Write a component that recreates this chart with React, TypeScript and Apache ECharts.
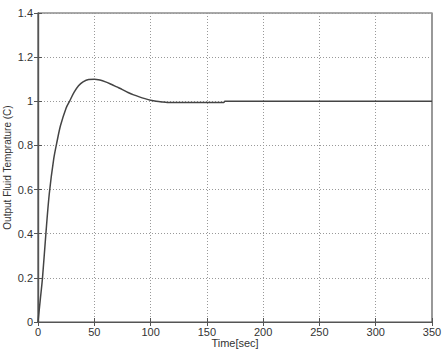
import React, { useEffect, useRef } from "react";
import * as echarts from "echarts";

const timeSec = [0, 2, 4, 7, 10, 14, 17, 20, 25, 28, 32, 36, 40, 45, 50, 55, 60, 65, 70, 75, 80, 85, 90, 95, 100, 105, 110, 115, 120, 140, 165, 166, 200, 250, 300, 350];
const temperature = [0, 0.1, 0.2, 0.4, 0.58, 0.74, 0.82, 0.89, 0.97, 1.0, 1.04, 1.07, 1.088, 1.099, 1.1, 1.096, 1.088, 1.077, 1.065, 1.053, 1.04, 1.029, 1.02, 1.012, 1.005, 1.0, 0.997, 0.995, 0.995, 0.995, 0.995, 1.0, 1.0, 1.0, 1.0, 1.0];
const xTicks = [0, 50, 100, 150, 200, 250, 300, 350];
const yTicks = [0, 0.2, 0.4, 0.6, 0.8, 1, 1.2, 1.4];

export default function App() {
  const ref = useRef<HTMLDivElement>(null);
  useEffect(() => {
    if (!ref.current) return;
    const chart = echarts.init(ref.current, undefined, { renderer: "svg" });
    const font = "Liberation Sans, Arial, sans-serif";
    const frameColor = "#555";
    const gridLine = { show: true, lineStyle: { color: "#999", type: [1, 2] as any, width: 1 } };
    chart.setOption({
      animation: false,
      backgroundColor: "#fff",
      grid: { left: 38, right: 12, top: 13, bottom: 28, show: true, borderColor: frameColor, borderWidth: 1.2, containLabel: false, outerBoundsMode: "none" },
      xAxis: [
        {
          type: "value",
          min: xTicks[0],
          max: xTicks[xTicks.length - 1],
          interval: 50,
          name: "Time[sec]",
          nameLocation: "middle",
          nameGap: 15,
          nameMoveOverlap: false,
          nameTextStyle: { fontFamily: font, fontSize: 11, color: "#333", verticalAlign: "top", lineHeight: 11 },
          axisLine: { show: true, onZero: false, lineStyle: { color: frameColor, width: 1.2 } },
          axisTick: { show: true, inside: true, length: 4, lineStyle: { color: frameColor } },
          axisLabel: { fontFamily: font, fontSize: 11, color: "#333", margin: 4 },
          splitLine: gridLine,
        },
        {
          type: "value",
          position: "top",
          min: xTicks[0],
          max: xTicks[xTicks.length - 1],
          interval: 50,
          axisLine: { show: true, lineStyle: { color: frameColor, width: 1.2 } },
          axisTick: { show: true, inside: true, length: 4, lineStyle: { color: frameColor } },
          axisLabel: { show: false },
          splitLine: { show: false },
        },
      ],
      yAxis: [
        {
          type: "value",
          min: yTicks[0],
          max: yTicks[yTicks.length - 1],
          interval: 0.2,
          name: "Output Fluid Temprature (C)",
          nameLocation: "middle",
          nameGap: 26,
          nameMoveOverlap: false,
          nameTextStyle: { fontFamily: font, fontSize: 10, color: "#333" },
          axisLine: { show: true, onZero: false, lineStyle: { color: frameColor, width: 1.2 } },
          axisTick: { show: true, inside: true, length: 4, lineStyle: { color: frameColor } },
          axisLabel: { fontFamily: font, fontSize: 11, color: "#333", margin: 5 },
          splitLine: gridLine,
        },
        {
          type: "value",
          position: "right",
          min: yTicks[0],
          max: yTicks[yTicks.length - 1],
          interval: 0.2,
          axisLine: { show: true, lineStyle: { color: frameColor, width: 1.2 } },
          axisTick: { show: true, inside: true, length: 4, lineStyle: { color: frameColor } },
          axisLabel: { show: false },
          splitLine: { show: false },
        },
      ],
      series: [
        {
          type: "line",
          data: timeSec.map((t, i) => [t, temperature[i]]),
          smooth: 0.3,
          showSymbol: false,
          lineStyle: { color: "#444", width: 1.5 },
        },
      ],
    });
    return () => chart.dispose();
  }, []);
  return <div ref={ref} style={{ width: 444, height: 350, position: "absolute", left: 0, top: 0 }} />;
}
